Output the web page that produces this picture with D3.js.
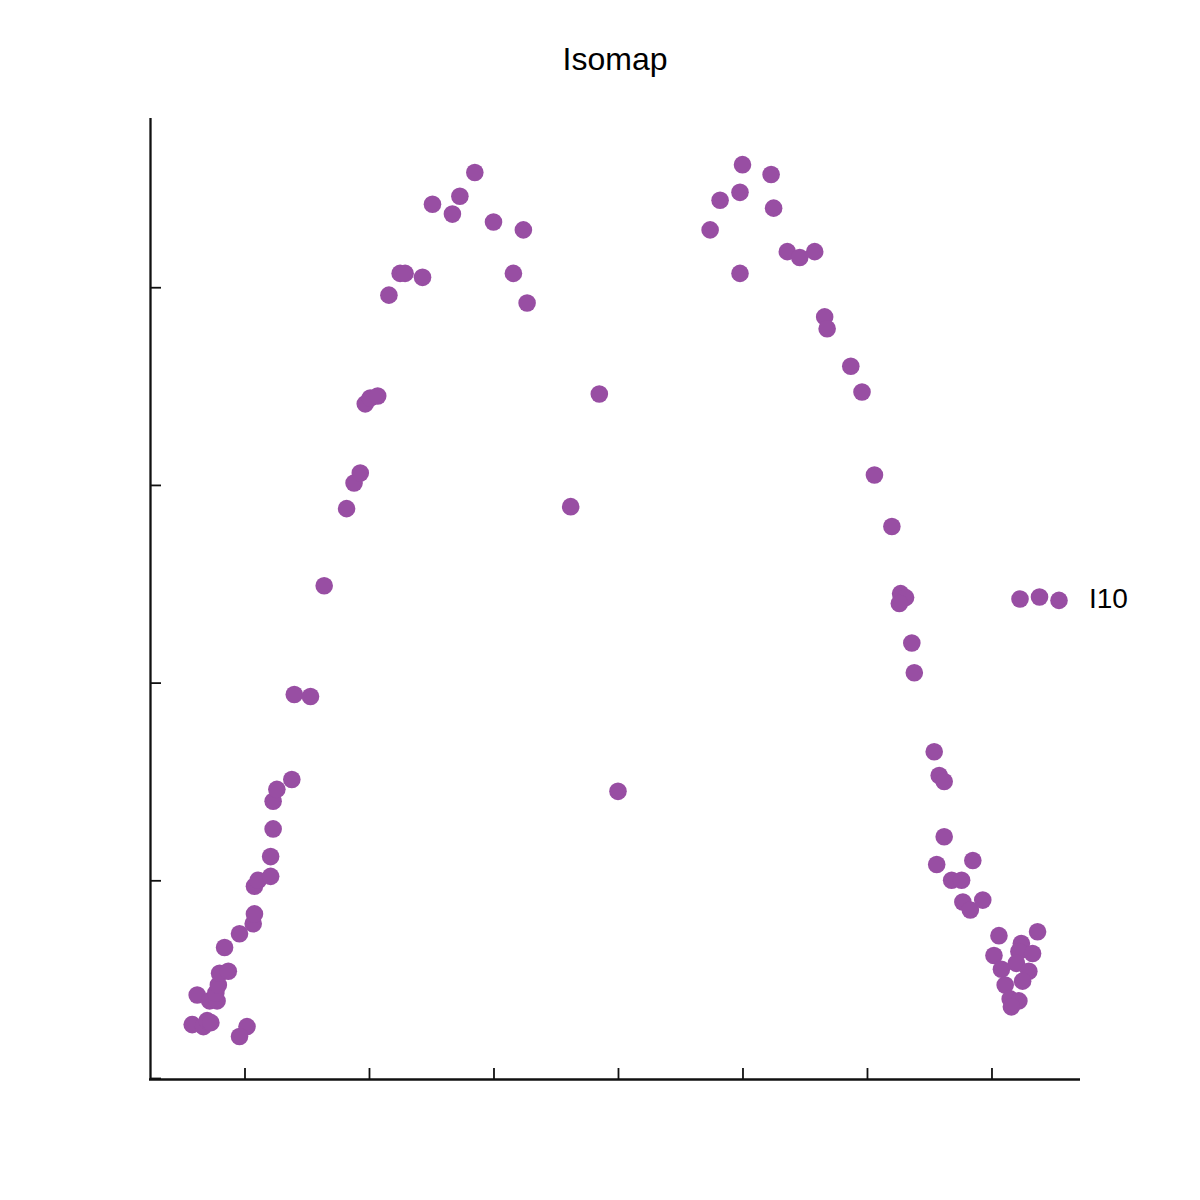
<!DOCTYPE html>
<html>
<head>
<meta charset="utf-8">
<script src="https://cdn.jsdelivr.net/npm/d3@7"></script>
<style>
  html, body { margin: 0; padding: 0; background: #fff; }
  svg { display: block; }
</style>
</head>
<body>
<svg id="chart" width="1200" height="1200"></svg>
<script>
// ---- data (arbitrary units: one tick step = 1) ----
const titleText = "Isomap";
const seriesName = "I10";
const xTicks = [-3, -2, -1, 0, 1, 2, 3];
const yTicks = [0, 1, 2, 3, 4];
const xValues = [
  -3.42, -3.33, -3.30, -3.27, -2.98, -3.04, -3.38, -3.28, -3.22, -3.23,
  -3.21, -3.20, -3.13, -3.16, -3.04, -2.93, -2.92, -2.92, -2.89, -2.79,
  -2.79, -2.77, -2.77, -2.74, -2.62, -2.60, -2.47, -2.36, -2.18, -2.12,
  -2.07, -2.03, -1.99, -1.93, -1.84, -1.75, -1.71, -1.57, -1.49, -1.33,
  -1.27, -1.15, -1.00, -0.76, -0.84, -0.73,
  -0.38, -0.15, 0.00,
  0.74, 0.82, 0.98, 1.00, 1.23, 1.25, 0.98, 1.36, 1.46, 1.58,
  1.66, 1.68, 1.87, 1.96, 2.06, 2.20, 2.27, 2.31, 2.26, 2.36,
  2.38, 2.54, 2.58, 2.62, 2.62, 2.56, 2.85, 2.68, 2.76, 2.77,
  2.83, 2.93, 3.06, 3.37, 3.24, 3.22, 3.33, 3.02, 3.20, 3.08,
  3.30, 3.25, 3.11, 3.15, 3.22, 3.16
];
const yValues = [
  0.27, 0.26, 0.29, 0.28, 0.26, 0.21, 0.42, 0.39, 0.39, 0.43,
  0.47, 0.53, 0.54, 0.66, 0.73, 0.78, 0.83, 0.97, 1.00, 1.02,
  1.12, 1.26, 1.40, 1.46, 1.51, 1.94, 1.93, 2.49, 2.88, 3.01,
  3.06, 3.41, 3.44, 3.45, 3.96, 4.07, 4.07, 4.05, 4.42, 4.37,
  4.46, 4.58, 4.33, 4.29, 4.07, 3.92,
  2.89, 3.46, 1.45,
  4.29, 4.44, 4.48, 4.62, 4.57, 4.40, 4.07, 4.18, 4.15, 4.18,
  3.85, 3.79, 3.60, 3.47, 3.05, 2.79, 2.45, 2.43, 2.40, 2.20,
  2.05, 1.65, 1.53, 1.50, 1.22, 1.08, 1.10, 1.00, 1.00, 0.89,
  0.85, 0.90, 0.72, 0.74, 0.68, 0.64, 0.63, 0.62, 0.58, 0.55,
  0.54, 0.49, 0.47, 0.40, 0.39, 0.36
];
// legend marker vertical jitter (as in a 3-point scatter legend)
const legendJitter = [0.0, -2.0, 1.4];

// ---- layout ----
const color = "#984ea3";
const axisColor = "#111";
const mLeft = 150, mRight = 1080, mTop = 118, mBottom = 1078;

const x = d3.scaleLinear().domain([-3.759, 3.711]).range([mLeft, mRight]);
const y = d3.scaleLinear().domain([0, 4.856]).range([mBottom, mTop]);

const svg = d3.select("#chart");

// title
svg.append("text")
  .attr("x", (mLeft + mRight) / 2)
  .attr("y", 70)
  .attr("text-anchor", "middle")
  .attr("font-family", "Liberation Sans, Arial, sans-serif")
  .attr("font-size", 32)
  .attr("fill", "#000")
  .text(titleText);

// points
const pts = xValues.map((v, i) => ({ x: v, y: yValues[i] }));
svg.append("g")
  .selectAll("circle")
  .data(pts)
  .join("circle")
  .attr("cx", d => x(d.x))
  .attr("cy", d => y(d.y))
  .attr("r", 8.8)
  .attr("fill", color);

// axes
const gx = svg.append("g")
  .attr("transform", `translate(0,${mBottom + 1})`)
  .call(d3.axisBottom(x).tickValues(xTicks).tickSize(-11).tickSizeOuter(0).tickFormat(""));
const gy = svg.append("g")
  .attr("transform", `translate(${mLeft},0)`)
  .call(d3.axisLeft(y).tickValues(yTicks).tickSize(-11).tickSizeOuter(0).tickFormat(""));
[gx, gy].forEach(g => {
  g.select(".domain").attr("stroke", axisColor).attr("stroke-width", 2.3);
  g.selectAll(".tick line").attr("stroke", axisColor).attr("stroke-width", 1.8);
});
gy.select(".domain").attr("d", `M0.5,${mTop}V${mBottom + 2}`);
gx.select(".domain").attr("d", `M${mLeft - 1},0.5H${mRight}`);

// legend
const legendX0 = 1020, legendStep = 19.5, legendY = 599;
const lg = svg.append("g");
lg.selectAll("circle")
  .data(legendJitter)
  .join("circle")
  .attr("cx", (d, i) => legendX0 + i * legendStep)
  .attr("cy", d => legendY + d)
  .attr("r", 8.8)
  .attr("fill", color);
lg.append("text")
  .attr("x", 1089)
  .attr("y", 607.5)
  .attr("font-family", "Liberation Sans, Arial, sans-serif")
  .attr("font-size", 28)
  .attr("fill", "#000")
  .text(seriesName);
</script>
</body>
</html>
